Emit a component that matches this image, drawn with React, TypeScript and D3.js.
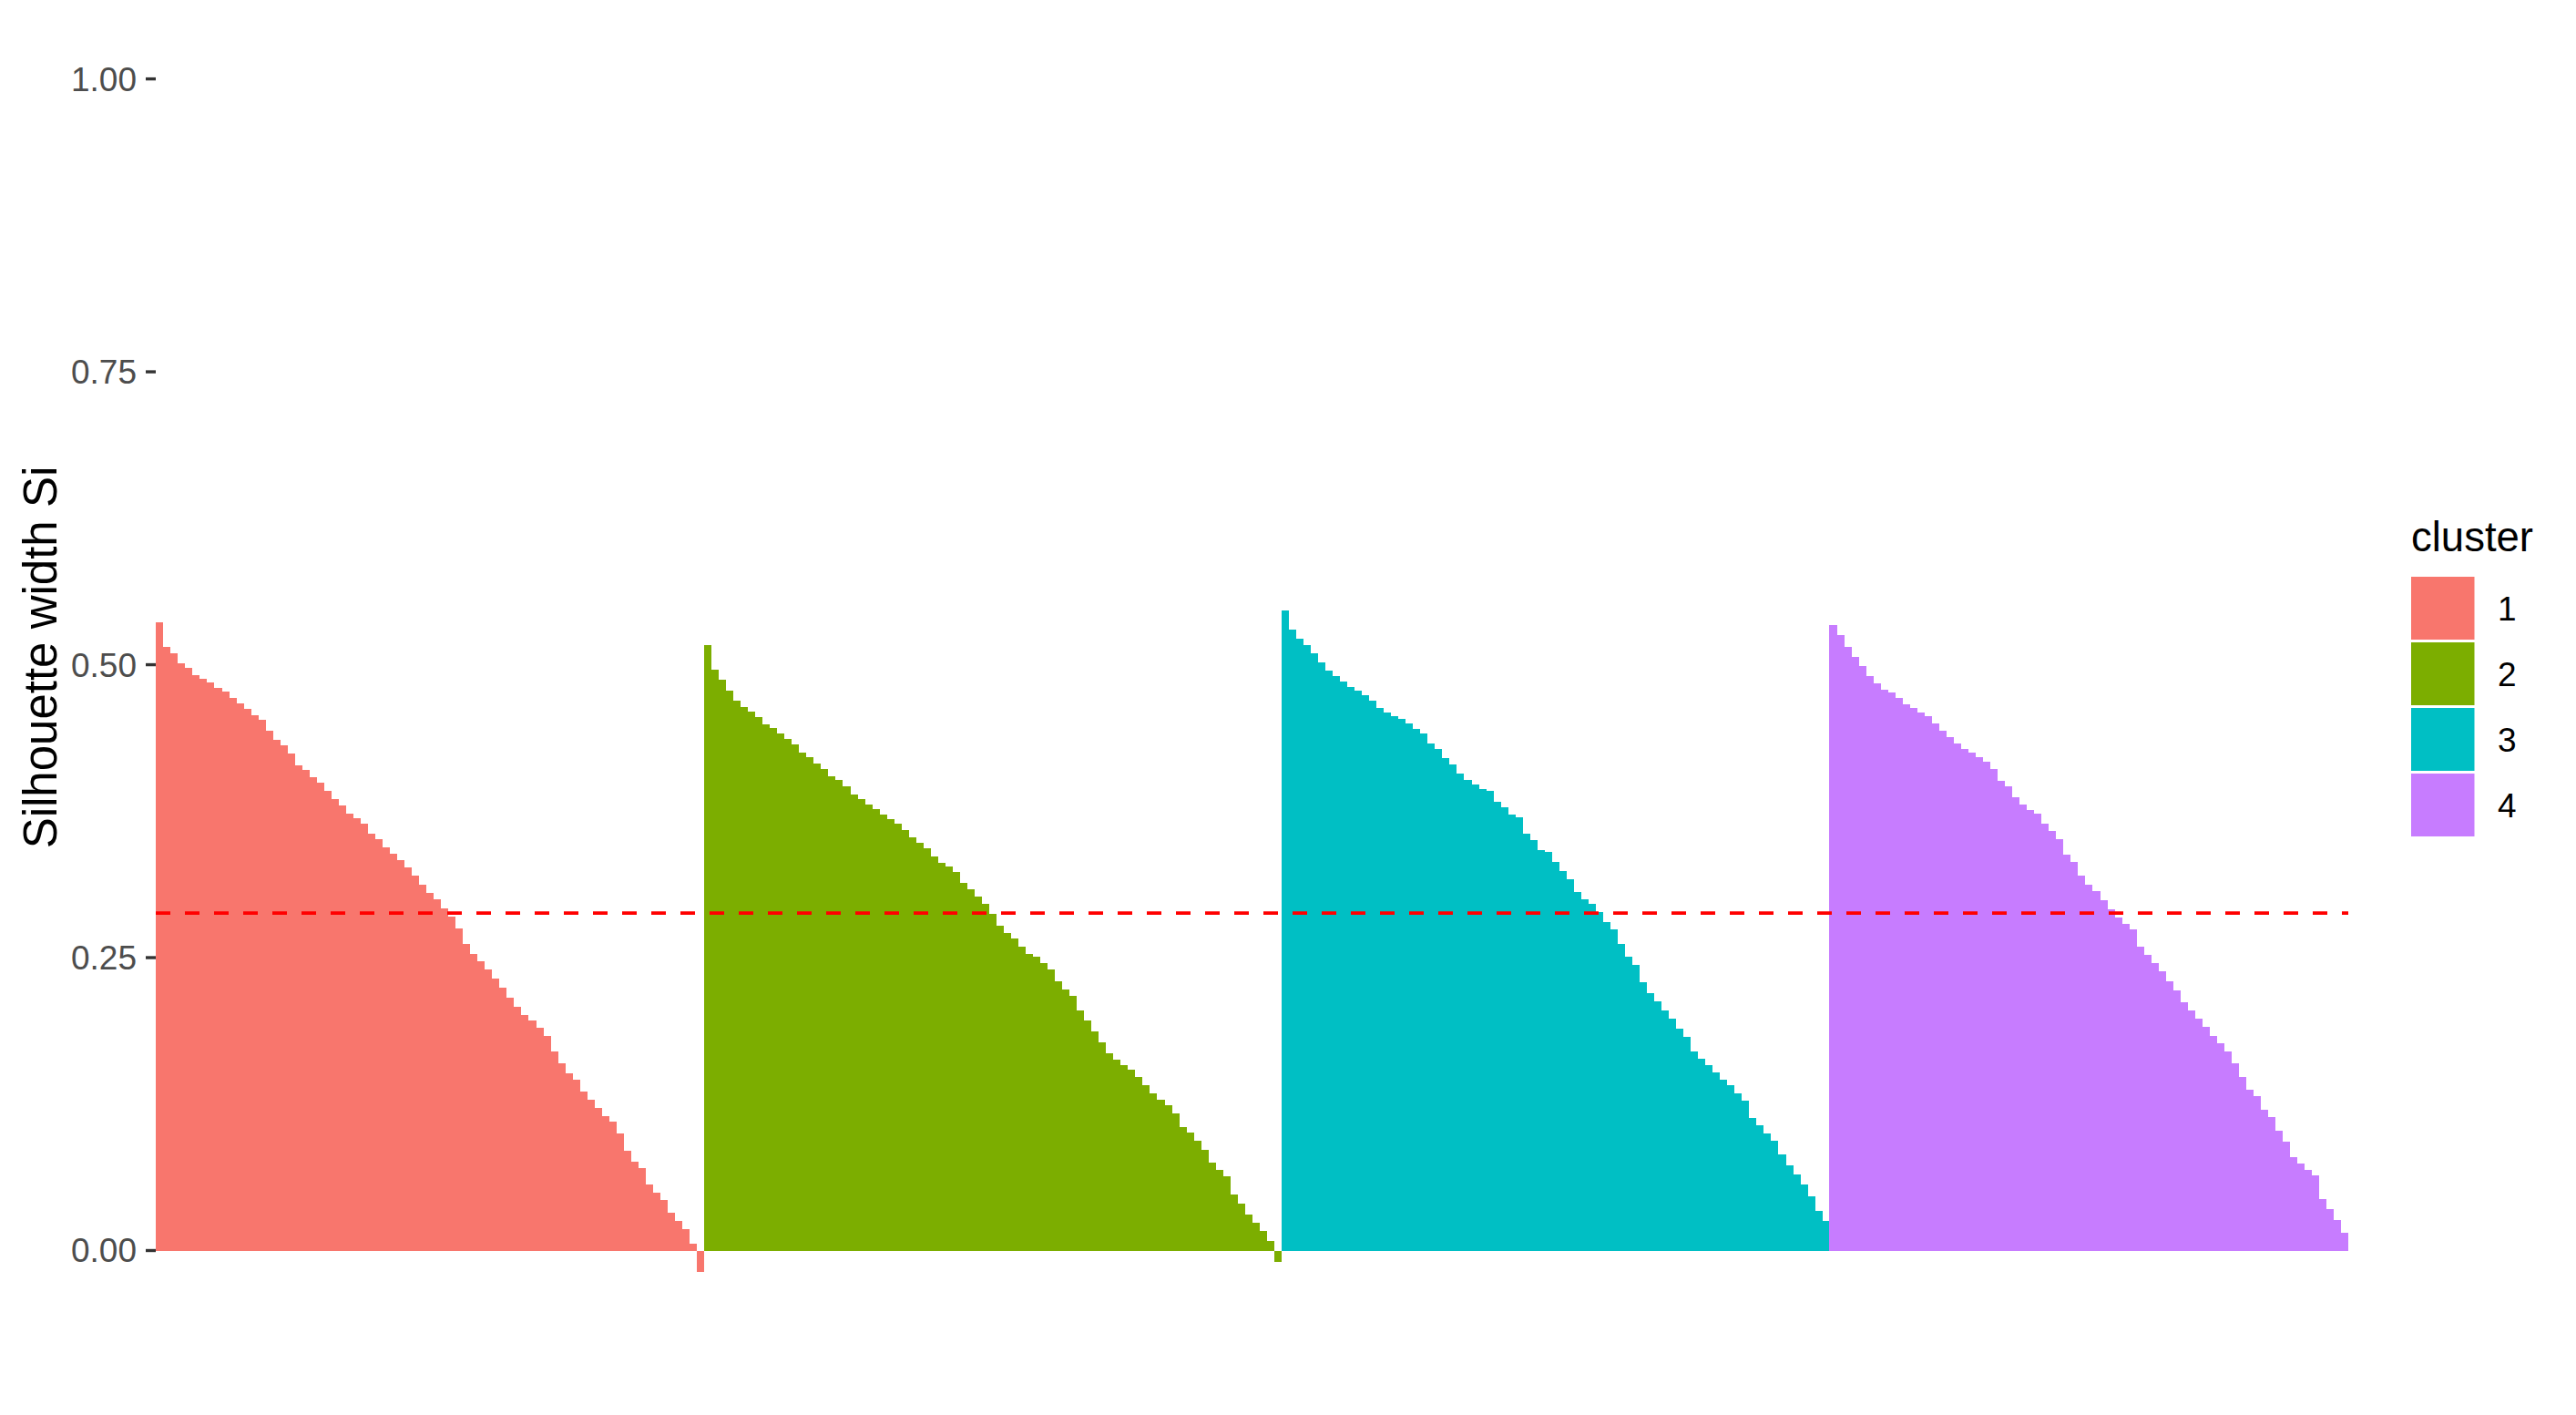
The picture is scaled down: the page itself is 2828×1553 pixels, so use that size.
import React from "react";
import * as d3 from "d3";

const clusterNames = ["1", "2", "3", "4"];
const clusterColors = ["#F8766D", "#7CAE00", "#00BFC4", "#C77CFF"];

const cluster1 = [
  0.536, 0.515, 0.510, 0.501, 0.497, 0.491, 0.488, 0.485, 0.480, 0.477,
  0.472, 0.467, 0.462, 0.457, 0.453, 0.444, 0.436, 0.431, 0.424, 0.414,
  0.410, 0.404, 0.399, 0.392, 0.385, 0.380, 0.373, 0.369, 0.364, 0.356,
  0.351, 0.344, 0.339, 0.333, 0.327, 0.320, 0.312, 0.305, 0.300, 0.292,
  0.285, 0.275, 0.262, 0.253, 0.247, 0.240, 0.232, 0.224, 0.216, 0.208,
  0.201, 0.196, 0.190, 0.183, 0.170, 0.160, 0.151, 0.146, 0.136, 0.129,
  0.122, 0.115, 0.110, 0.100, 0.085, 0.076, 0.070, 0.056, 0.049, 0.043,
  0.032, 0.025, 0.018, 0.006, -0.018,
];
const cluster2 = [
  0.517, 0.496, 0.487, 0.478, 0.469, 0.464, 0.460, 0.455, 0.449, 0.446,
  0.441, 0.437, 0.432, 0.425, 0.421, 0.416, 0.411, 0.405, 0.402, 0.396,
  0.389, 0.385, 0.381, 0.377, 0.372, 0.368, 0.364, 0.359, 0.353, 0.348,
  0.343, 0.336, 0.331, 0.328, 0.323, 0.314, 0.308, 0.302, 0.296, 0.287,
  0.277, 0.271, 0.266, 0.259, 0.253, 0.251, 0.245, 0.240, 0.230, 0.223,
  0.217, 0.205, 0.196, 0.187, 0.178, 0.168, 0.163, 0.158, 0.154, 0.148,
  0.141, 0.134, 0.129, 0.124, 0.117, 0.105, 0.101, 0.094, 0.086, 0.075,
  0.069, 0.063, 0.048, 0.040, 0.031, 0.024, 0.017, 0.008, -0.010,
];
const cluster3 = [
  0.546, 0.530, 0.522, 0.517, 0.510, 0.502, 0.495, 0.490, 0.486, 0.481,
  0.478, 0.474, 0.469, 0.463, 0.459, 0.456, 0.454, 0.450, 0.445, 0.441,
  0.433, 0.428, 0.420, 0.415, 0.407, 0.402, 0.398, 0.394, 0.392, 0.383,
  0.378, 0.372, 0.370, 0.356, 0.350, 0.342, 0.340, 0.332, 0.324, 0.317,
  0.306, 0.300, 0.296, 0.289, 0.280, 0.274, 0.262, 0.251, 0.244, 0.229,
  0.220, 0.213, 0.205, 0.198, 0.189, 0.182, 0.170, 0.164, 0.158, 0.152,
  0.146, 0.141, 0.134, 0.128, 0.113, 0.107, 0.100, 0.094, 0.082, 0.073,
  0.065, 0.056, 0.046, 0.034, 0.025,
];
const cluster4 = [
  0.534, 0.525, 0.515, 0.507, 0.499, 0.490, 0.484, 0.479, 0.476, 0.472,
  0.466, 0.463, 0.459, 0.456, 0.450, 0.444, 0.438, 0.433, 0.428, 0.425,
  0.421, 0.417, 0.411, 0.401, 0.396, 0.387, 0.381, 0.376, 0.373, 0.364,
  0.358, 0.351, 0.338, 0.332, 0.320, 0.312, 0.307, 0.299, 0.291, 0.284,
  0.279, 0.274, 0.259, 0.252, 0.245, 0.238, 0.230, 0.222, 0.212, 0.205,
  0.198, 0.191, 0.183, 0.177, 0.170, 0.160, 0.148, 0.137, 0.132, 0.120,
  0.114, 0.102, 0.093, 0.080, 0.074, 0.069, 0.064, 0.044, 0.035, 0.026,
  0.015,
];
const averageWidth = 0.288;
const yTicks = [0, 0.25, 0.5, 0.75, 1.0];
const yTickLabels = ["0.00", "0.25", "0.50", "0.75", "1.00"];
const yTitle = "Silhouette width Si";
const legendTitle = "cluster";

const W = 2828;
const H = 1553;
const FONT = "'Liberation Sans', Arial, sans-serif";

export default function App() {
  const clusters = [cluster1, cluster2, cluster3, cluster4];
  const rows: { idx: number; c: number; v: number }[] = [];
  clusters.forEach((arr, c) => arr.forEach((v) => rows.push({ idx: rows.length, c, v })));

  const x = d3
    .scaleBand<number>()
    .domain(rows.map((r) => r.idx))
    .range([171, 2578])
    .padding(0);
  const y = d3.scaleLinear().domain([0, 1]).range([1372.5, 86.6]);

  const panelLeft = 171;
  const panelRight = 2578;

  return (
    <div style={{ position: "absolute", left: 0, top: 0 }}>
      <svg width={W} height={H} style={{ display: "block", background: "#fff" }}>
        <rect x={0} y={0} width={W} height={H} fill="#fff" />
        <g shapeRendering="crispEdges">
          {rows.map((r) => (
            <rect
              key={r.idx}
              x={x(r.idx)!}
              width={x.bandwidth() + 0.3}
              y={y(Math.max(0, r.v))}
              height={Math.abs(y(r.v) - y(0))}
              fill={clusterColors[r.c]}
            />
          ))}
        </g>
        <line
          x1={panelLeft}
          x2={panelRight}
          y1={y(averageWidth)}
          y2={y(averageWidth)}
          stroke="#FF0000"
          strokeWidth={3.6}
          strokeDasharray="16,16"
        />
        {yTicks.map((t, i) => (
          <g key={t}>
            <line x1={160} x2={171} y1={y(t)} y2={y(t)} stroke="#333333" strokeWidth={3.4} />
            <text
              x={150}
              y={y(t)}
              dy="0.35em"
              textAnchor="end"
              fontFamily={FONT}
              fontSize={37}
              fill="#4D4D4D"
            >
              {yTickLabels[i]}
            </text>
          </g>
        ))}
        <text
          transform={`translate(62, ${(y(0) + y(1)) / 2 - 8}) rotate(-90)`}
          textAnchor="middle"
          fontFamily={FONT}
          fontSize={51}
          fill="#000"
        >
          {yTitle}
        </text>
        <text x={2647} y={605} fontFamily={FONT} fontSize={45.5} fill="#000">
          {legendTitle}
        </text>
        {clusterNames.map((n, i) => (
          <g key={n}>
            <rect x={2647} y={633 + i * 72} width={69.5} height={69} fill={clusterColors[i]} />
            <text
              x={2742}
              y={633 + i * 72 + 34.5}
              dy="0.36em"
              fontFamily={FONT}
              fontSize={37}
              fill="#000"
            >
              {n}
            </text>
          </g>
        ))}
      </svg>
    </div>
  );
}
